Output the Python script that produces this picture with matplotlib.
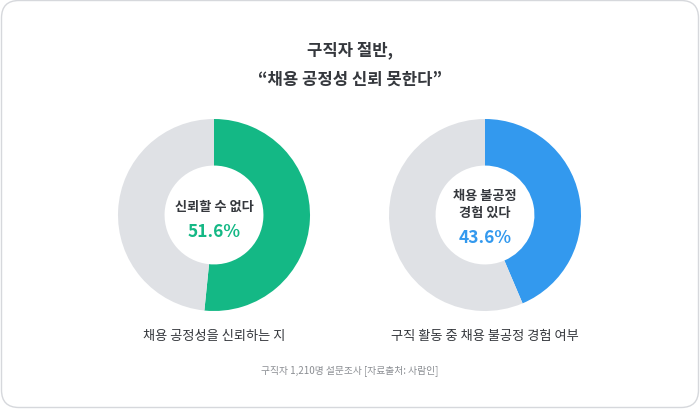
import matplotlib
matplotlib.use("Agg")
from matplotlib import pyplot as plt
from matplotlib.patches import FancyBboxPatch

plt.rcParams['font.family'] = ['Noto Sans CJK KR', 'DejaVu Sans']

# ── Data ───────────────────────────────────────────────────────────────────────
title_lines   = ["구직자 절반,", "“채용 공정성 신뢰 못한다”"]
donut_labels  = ["채용 공정성을 신뢰하는 지", "구직 활동 중 채용 불공정 경험 여부"]
center_labels = ["신뢰할 수 없다", "채용 불공정\n경험 있다"]
values        = [51.6, 43.6]
source_text   = "구직자 1,210명 설문조사 [자료출처: 사람인]"

# ── Style ──────────────────────────────────────────────────────────────────────
_COL_ACCENT = ["#14b885", "#3399ee"]
_COL_REST   = "#dfe1e5"
_COL_TEXT   = "#35383d"
_COL_SRC    = "#8a8d92"

W, H = 700, 410
fig = plt.figure(figsize=(W / 100, H / 100), dpi=100)
fig.patch.set_facecolor("white")

# rounded frame (no fill, drawn behind the axes)
frame = FancyBboxPatch((1.5 / W, 1.5 / H), (W - 3) / W, (H - 3) / H,
                       boxstyle="round,pad=0,rounding_size=0.025",
                       transform=fig.transFigure, facecolor="none",
                       edgecolor="#d6d8dc", linewidth=1.0,
                       mutation_aspect=W / H, zorder=-1)
fig.patches.append(frame)

fig.text(0.5, 1 - 50 / H, title_lines[0], ha="center", va="center",
         fontsize=12, fontweight="bold", color=_COL_TEXT)
fig.text(0.5, 1 - 80 / H, title_lines[1], ha="center", va="center",
         fontsize=12, fontweight="bold", color=_COL_TEXT)

centers = [(214, 216), (485, 216)]
R = 96
for i, (cx, cy) in enumerate(centers):
    ax = fig.add_axes([(cx - R) / W, (H - cy - R) / H, 2 * R / W, 2 * R / H])
    ax.pie([values[i], 100 - values[i]],
           colors=[_COL_ACCENT[i], _COL_REST],
           startangle=90, counterclock=False, radius=1,
           wedgeprops=dict(width=0.485, linewidth=0))
    ax.set_xlim(-1, 1)
    ax.set_ylim(-1, 1)
    ax.set_aspect("equal")
    ax.axis("off")

    lines = center_labels[i].split("\n")
    if len(lines) == 1:
        ax.text(0, 0.09, lines[0], ha="center", va="center",
                fontsize=9.5, fontweight="semibold", color=_COL_TEXT)
        ax.text(0, -0.17, f"{values[i]}%", ha="center", va="center",
                fontsize=12.5, fontweight="bold", color=_COL_ACCENT[i])
    else:
        ax.text(0, 0.21, lines[0], ha="center", va="center",
                fontsize=9.5, fontweight="semibold", color=_COL_TEXT)
        ax.text(0, 0.03, lines[1], ha="center", va="center",
                fontsize=9.5, fontweight="semibold", color=_COL_TEXT)
        ax.text(0, -0.23, f"{values[i]}%", ha="center", va="center",
                fontsize=12.5, fontweight="bold", color=_COL_ACCENT[i])

    fig.text(cx / W, 1 - 337 / H, donut_labels[i], ha="center", va="center",
             fontsize=9.5, color=_COL_TEXT)

fig.text(0.5, 1 - 371 / H, source_text, ha="center", va="center",
         fontsize=7, color=_COL_SRC)

fig.savefig("out.png", dpi=100, facecolor="white")
